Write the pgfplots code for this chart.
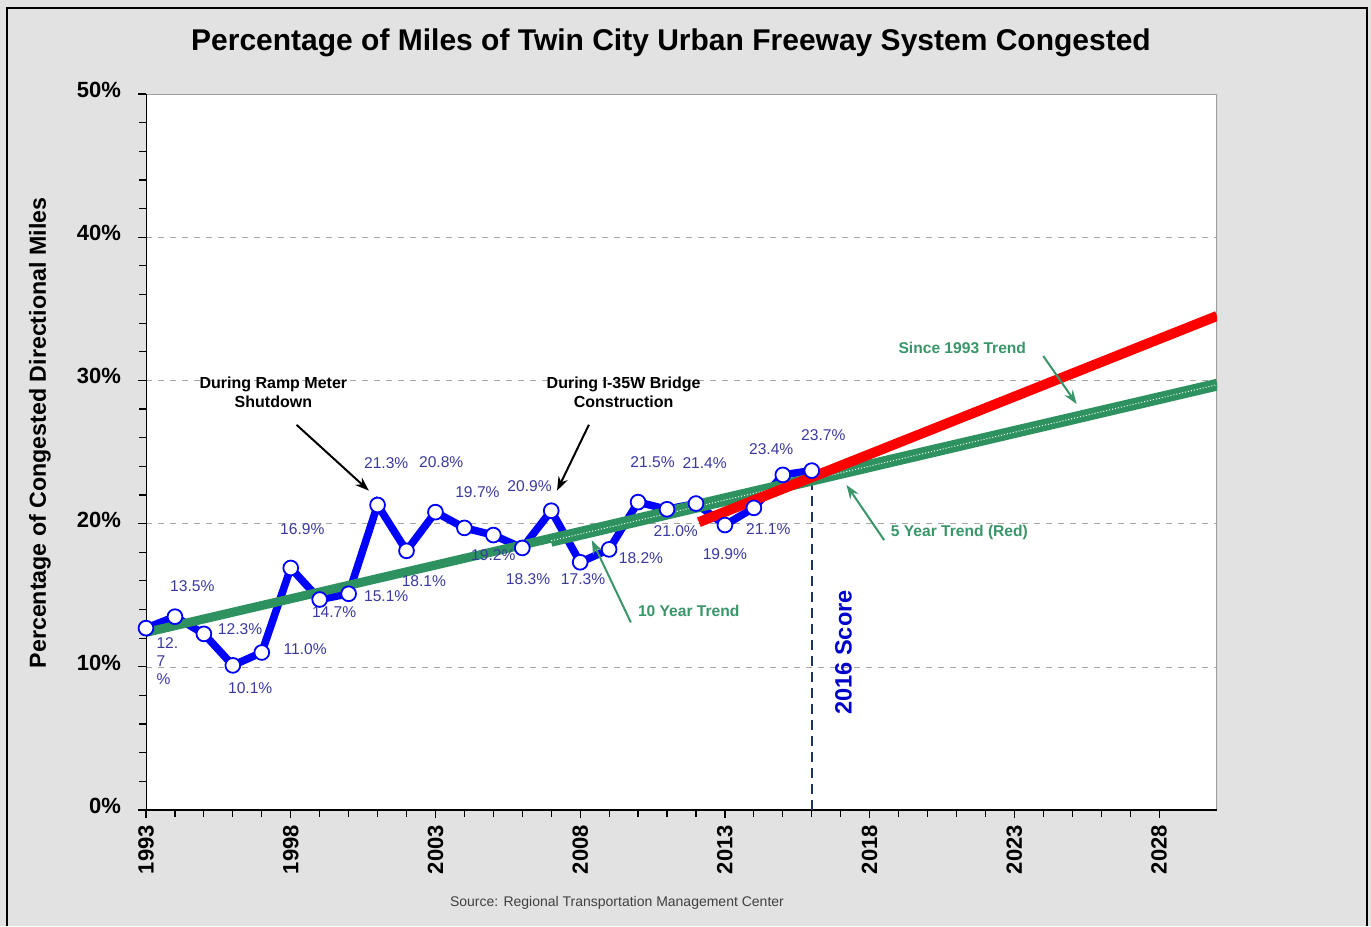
\documentclass[border=0pt]{standalone}
\usepackage{fontspec}
\setmainfont{Liberation Sans}
\usepackage{pgfplots}
\pgfplotsset{compat=1.18}
\usetikzlibrary{arrows.meta}
\definecolor{bgray}{RGB}{226,226,226}
\definecolor{lblue}{RGB}{58,58,158}
\definecolor{sgreen}{RGB}{46,146,96}
\definecolor{tgreen}{RGB}{58,150,105}
\definecolor{navy}{RGB}{30,50,100}

\begin{document}
\begin{tikzpicture}
% page: 1371 x 926 px, 1 px = 0.5 pt
\fill[bgray] (0,0) rectangle (685.5pt,463pt);
\draw[black, line width=0.6pt] (3.5pt,0) -- (3.5pt,459pt) -- (683.5pt,459pt) -- (683.5pt,0);

\node[font=\fontsize{15}{17}\selectfont\bfseries] at (335.5pt,441.5pt)
  {Percentage of Miles of Twin City Urban Freeway System Congested};
\node[font=\fontsize{11.6}{13}\selectfont\bfseries, rotate=90] at (20pt,246.5pt)
  {Percentage of Congested Directional Miles};
\node[font=\fontsize{7}{8}\selectfont, text=black!75] at (308.5pt,11.5pt)
  {Source: Regional Transportation Management Center};

\begin{axis}[
    at={(73pt,58pt)}, anchor=south west,
    scale only axis,
    width=535.5pt, height=358pt,
    xmin=1993, xmax=2030,
    ymin=0, ymax=50,
    axis background/.style={fill=white},
    axis line style={draw=none},
    xtick={1993,1998,2003,2008,2013,2018,2023,2028},
    xticklabels={1993,1998,2003,2008,2013,2018,2023,2028},
    ytick={0,10,20,30,40,50},
    yticklabels={0\%,10\%,20\%,30\%,40\%,50\%},
    minor x tick num=4,
    minor y tick num=4,
    xtick pos=bottom, ytick pos=left,
    tick align=outside,
    major tick length=4pt, minor tick length=3.5pt,
    every tick/.style={black, line width=0.6pt},
    xticklabel style={rotate=90, anchor=east, font=\fontsize{11}{12}\selectfont\bfseries},
    yticklabel style={font=\fontsize{11}{12}\selectfont\bfseries, xshift=-5pt, yshift=2pt},
    ymajorgrids,
    grid style={gray!70, dashed, line width=0.3pt},
    clip=true,
]
% frame of the plot area
\draw[gray!75, line width=1.3pt] (rel axis cs:0,1) -- (rel axis cs:1,1) -- (rel axis cs:1,0);
\draw[black, line width=0.9pt] (rel axis cs:0,1) -- (rel axis cs:0,0) -- (rel axis cs:1,0);

% 2016 score line
\addplot[navy, dashed, line width=1pt, dash pattern=on 5pt off 3pt] coordinates {(2016,0) (2016,23.7)};

% observed data
\addplot[blue, line width=3.8pt, mark=*, mark size=3.7pt,
  mark options={fill=white, draw=blue, line width=0.9pt, solid}] coordinates {
  (1993,12.7) (1994,13.5) (1995,12.3) (1996,10.1) (1997,11.0) (1998,16.9)
  (1999,14.7) (2000,15.1) (2001,21.3) (2002,18.1) (2003,20.8) (2004,19.7)
  (2005,19.2) (2006,18.3) (2007,20.9) (2008,17.3) (2009,18.2) (2010,21.5)
  (2011,21.0) (2012,21.4) (2013,19.9) (2014,21.1) (2015,23.4) (2016,23.7)
};

% since 1993 trend
\addplot[sgreen, line width=4.5pt] coordinates {(1993,12.4) (2030,29.8)};
% 10 year trend
\addplot[sgreen, line width=4.5pt] coordinates {(2007.0,18.7) (2030,29.6)};
\addplot[white, line width=0.5pt, densely dotted] coordinates {(2007.0,18.8) (2030,29.7)};
% 5 year trend
\addplot[red, line width=5pt] coordinates {(2012.1,20.1) (2030,34.5)};

% data labels
\begin{scope}[every node/.style={font=\fontsize{7.8}{9}\selectfont, text=lblue, inner sep=0pt}]
\node[anchor=north west, align=left, font=\fontsize{7.8}{9}\selectfont] at (axis cs:1993.35,12.1) {12.\\7\\\%};
\node at (axis cs:1994.6,15.6) {13.5\%};
\node at (axis cs:1996.25,12.6) {12.3\%};
\node at (axis cs:1996.6,8.5) {10.1\%};
\node at (axis cs:1998.5,11.2) {11.0\%};
\node at (axis cs:1998.4,19.6) {16.9\%};
\node at (axis cs:1999.5,13.8) {14.7\%};
\node at (axis cs:2001.3,14.9) {15.1\%};
\node at (axis cs:2001.3,24.2) {21.3\%};
\node at (axis cs:2002.6,16.0) {18.1\%};
\node at (axis cs:2003.2,24.3) {20.8\%};
\node at (axis cs:2004.45,22.2) {19.7\%};
\node at (axis cs:2005.0,17.8) {19.2\%};
\node at (axis cs:2006.2,16.1) {18.3\%};
\node at (axis cs:2006.25,22.6) {20.9\%};
\node at (axis cs:2008.1,16.1) {17.3\%};
\node at (axis cs:2010.1,17.6) {18.2\%};
\node at (axis cs:2010.5,24.3) {21.5\%};
\node at (axis cs:2012.3,24.2) {21.4\%};
\node at (axis cs:2011.3,19.5) {21.0\%};
\node at (axis cs:2013.0,17.9) {19.9\%};
\node at (axis cs:2014.5,19.6) {21.1\%};
\node at (axis cs:2014.6,25.2) {23.4\%};
\node at (axis cs:2016.4,26.2) {23.7\%};
\end{scope}

% annotations
\node[font=\fontsize{8}{9.5}\selectfont\bfseries, align=center] at (axis cs:1997.4,29.2)
  {During Ramp Meter\\Shutdown};
\draw[-{Stealth[length=7pt,width=5pt]}, black, line width=1pt]
  (axis cs:1998.2,26.9) -- (axis cs:2000.7,22.3);
\node[font=\fontsize{8}{9.5}\selectfont\bfseries, align=center] at (axis cs:2009.5,29.2)
  {During I-35W Bridge\\Construction};
\draw[-{Stealth[length=7pt,width=5pt]}, black, line width=1pt]
  (axis cs:2008.3,26.9) -- (axis cs:2007.2,22.3);

\node[font=\fontsize{7.8}{9}\selectfont\bfseries, text=tgreen] at (axis cs:2011.75,13.9) {10 Year Trend};
\draw[-{Stealth[length=7pt,width=5pt]}, tgreen, line width=1pt]
  (axis cs:2009.75,13.1) -- (axis cs:2008.4,18.85);
\node[font=\fontsize{7.8}{9}\selectfont\bfseries, text=tgreen] at (axis cs:2021.1,19.4) {5 Year Trend (Red)};
\draw[-{Stealth[length=7pt,width=5pt]}, tgreen, line width=1pt]
  (axis cs:2018.5,18.85) -- (axis cs:2017.2,22.7);
\node[font=\fontsize{7.8}{9}\selectfont\bfseries, text=tgreen] at (axis cs:2021.2,32.3) {Since 1993 Trend};
\draw[-{Stealth[length=7pt,width=5pt]}, tgreen, line width=1pt]
  (axis cs:2024.0,31.7) -- (axis cs:2025.15,28.35);

\node[rotate=90, font=\fontsize{11.8}{13}\selectfont\bfseries, text=blue!80!black] at (axis cs:2017.1,11.0) {2016 Score};
\end{axis}
\end{tikzpicture}
\end{document}
